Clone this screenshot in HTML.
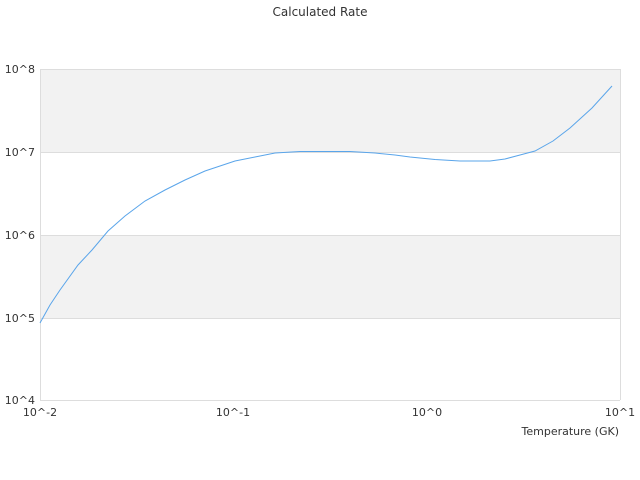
<!DOCTYPE html>
<html><head><meta charset="utf-8"><style>
html,body{margin:0;padding:0;background:#fff;}
svg{display:block;font-family:"DejaVu Sans","Liberation Sans",sans-serif;}
</style></head><body>
<svg width="640" height="480" viewBox="0 0 640 480" xmlns="http://www.w3.org/2000/svg">
<rect width="640" height="480" fill="#fff"/>
<text x="320" y="16" font-size="12" fill="#333" text-anchor="middle">Calculated Rate</text>
<rect x="40" y="69" width="580" height="83" fill="#f2f2f2"/>
<rect x="40" y="235" width="580" height="83" fill="#f2f2f2"/>
<g stroke="#dddddd" stroke-width="1">
<line x1="40" y1="69.5" x2="620" y2="69.5"/>
<line x1="40" y1="152.5" x2="620" y2="152.5"/>
<line x1="40" y1="235.5" x2="620" y2="235.5"/>
<line x1="40" y1="318.5" x2="620" y2="318.5"/>
<line x1="40" y1="400.5" x2="620" y2="400.5"/>
<line x1="40.5" y1="69" x2="40.5" y2="400"/>
<line x1="620.5" y1="69" x2="620.5" y2="400"/>
</g>
<g font-size="11" fill="#333" text-anchor="end">
<text x="35" y="73">10^8</text>
<text x="35" y="156">10^7</text>
<text x="35" y="239">10^6</text>
<text x="35" y="322">10^5</text>
<text x="35" y="404">10^4</text>
</g>
<g font-size="11" fill="#333" text-anchor="middle">
<text x="40" y="416">10^-2</text>
<text x="233" y="416">10^-1</text>
<text x="427" y="416">10^0</text>
<text x="620" y="416">10^1</text>
</g>
<text x="619" y="435" font-size="11" fill="#333" text-anchor="end">Temperature (GK)</text>
<polyline fill="none" stroke="#5aa5ea" stroke-width="1" points="40,323 50,305 60,290 78,265 92,250 108,231 125,216 145,201 165,190 185,180 205,171 220,166 235,161 255,157 275,153 300,151.5 350,151.5 375,153 395,155 410,157 435,159.5 460,161 490,161 505,159 520,155 535,151 553,141 570,128 592,108 612,86"/>
</svg>
</body></html>
